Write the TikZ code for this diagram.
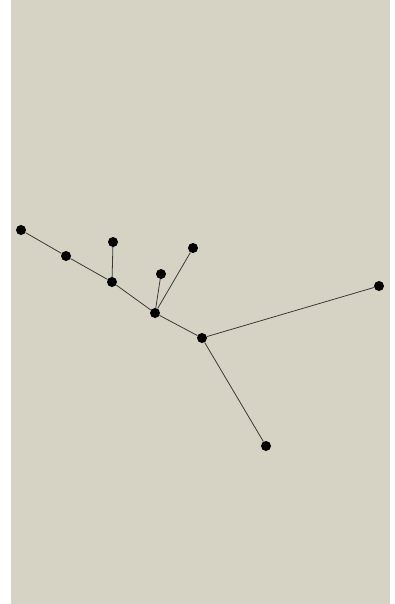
\documentclass[tikz,border=0pt]{standalone}
\usepackage{tikz}
\usetikzlibrary{positioning}
\definecolor{paper}{RGB}{215,211,196}
\definecolor{twig}{RGB}{60,58,52}

\begin{document}
\begin{tikzpicture}[x=1pt, y=-1pt,
    dot/.style={circle, fill=black, inner sep=0pt, minimum size=10pt},
    twigline/.style={draw=twig, line width=0.8pt}]
    % Frame and paper
    \useasboundingbox (0,0) rectangle (395,604);
    \fill[white] (0,0) rectangle (395,604);
    \fill[paper] (11,0) rectangle (390,604);
    % Dots
    \node[dot] (a) at (21,230) {};
    \node[dot] (b) at (66,256) {};
    \node[dot] (c) at (112,282) {};
    \node[dot] (d) at (113,242) {};
    \node[dot] (e) at (155,313) {};
    \node[dot] (f) at (161,274) {};
    \node[dot] (g) at (193,248) {};
    \node[dot] (h) at (202,338) {};
    \node[dot] (i) at (379,286) {};
    \node[dot] (j) at (266,446) {};
    % Branches
    \foreach \u/\v in {a/b, b/c, c/d, c/e, e/f, e/g, e/h, h/i, h/j}
        \draw[twigline] (\u) -- (\v);
\end{tikzpicture}
\end{document}
